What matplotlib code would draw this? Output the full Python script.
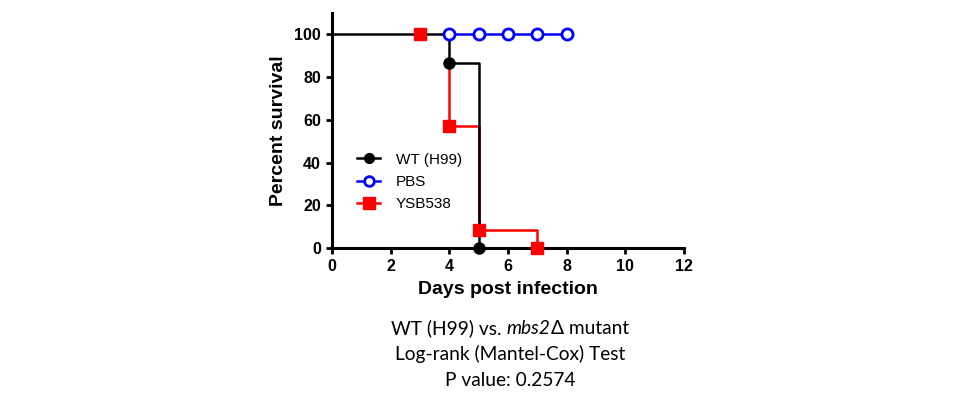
import matplotlib
matplotlib.use("Agg")
import matplotlib.pyplot as plt
from matplotlib.lines import Line2D

wt_days = [0, 4, 5]
wt_surv = [100, 86.7, 0]
wt_mark_days = [4, 5]
wt_mark_surv = [86.7, 0]

pbs_days = [4, 5, 6, 7, 8]
pbs_surv = [100, 100, 100, 100, 100]

ysb_days = [3, 4, 5, 7]
ysb_surv = [100, 57.1, 8.5, 0]

xticks = [0, 2, 4, 6, 8, 10, 12]
yticks = [0, 20, 40, 60, 80, 100]

fig = plt.figure(figsize=(9.6, 4.15), dpi=100)
ax = fig.add_axes([0.3458, 0.4024, 0.3667, 0.5663])

ax.step([4] + ysb_days[1:], [86.7] + ysb_surv[1:], where='post', color='#ff0000', lw=1.8, clip_on=False, zorder=2)
ax.plot(ysb_days, ysb_surv, 's', color='#ff0000', ms=9, clip_on=False, zorder=4)
ax.step(wt_days, wt_surv, where='post', color='black', lw=1.8, clip_on=False, zorder=3)
ax.plot(wt_mark_days, wt_mark_surv, 'o', color='black', ms=8, clip_on=False, zorder=5)
ax.plot(pbs_days, pbs_surv, '-o', color='#0000ff', lw=1.8, ms=8, mfc='white', mew=2, clip_on=False, zorder=4)

handles = [
    Line2D([], [], color='black', marker='o', ms=7, lw=1.8),
    Line2D([], [], color='#0000ff', marker='o', ms=7, mfc='white', mew=2, lw=1.8),
    Line2D([], [], color='#ff0000', marker='s', ms=8, lw=1.8),
]
ax.legend(handles, ['WT (H99)', 'PBS', 'YSB538'], loc='lower left', bbox_to_anchor=(0.055, 0.13),
          frameon=False, prop={'family': 'Liberation Sans', 'size': 11}, handlelength=1.5,
          handletextpad=1.0, labelspacing=0.55, borderaxespad=0)

ax.set_xlim(0, 12)
ax.set_ylim(0, 110)
ax.set_xticks(xticks)
ax.set_yticks(yticks)
for s in ['top', 'right']:
    ax.spines[s].set_visible(False)
for s in ['left', 'bottom']:
    ax.spines[s].set_linewidth(2.2)
ax.tick_params(width=2, length=4.5, direction='out')
for lab in ax.get_xticklabels() + ax.get_yticklabels():
    lab.set_fontfamily('Liberation Sans')
    lab.set_fontweight('bold')
    lab.set_fontsize(11.5)
ax.set_xlabel('Days post infection', fontfamily='Liberation Sans', fontweight='bold', fontsize=14, labelpad=5)
ax.set_ylabel('Percent survival', fontfamily='Liberation Sans', fontweight='bold', fontsize=14, labelpad=5)

fam = ['Lato', 'DejaVu Sans']
fs = 13.8
cx = 510 / 960
tf = {'family': fam, 'size': fs, 'ha': 'center', 'va': 'baseline'}

# first line composed of three runs (middle one italic)
parts = [('WT (H99) vs. ', 'normal'), ('mbs2', 'italic'), ('Δ mutant', 'normal')]
y1 = 1 - 334 / 415
txts = [fig.text(0, y1, s, family=fam, size=fs, style=st, ha='left', va='baseline') for s, st in parts]
fig.canvas.draw()
r = fig.canvas.get_renderer()
widths = [t.get_window_extent(r).width for t in txts]
total = sum(widths)
W = fig.bbox.width
x = cx * W - total / 2
for t, w in zip(txts, widths):
    t.set_x(x / W)
    x += w

fig.text(cx, 1 - 360 / 415, 'Log-rank (Mantel-Cox) Test', **tf)
fig.text(cx, 1 - 386 / 415, 'P value: 0.2574', **tf)

fig.savefig('out.png', dpi=100)
